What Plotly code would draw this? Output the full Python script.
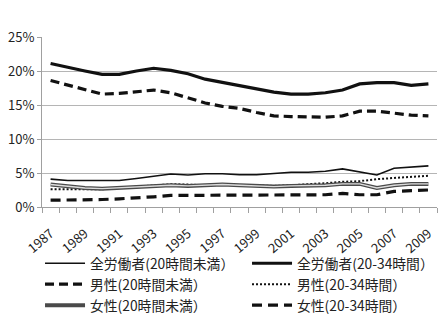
import plotly.graph_objects as go

years = list(range(1987, 2010))

all_u20 = [4.1, 3.9, 3.9, 3.9, 3.9, 4.2, 4.55, 4.85, 4.7, 4.9, 4.9, 4.75, 4.75, 4.9, 5.1, 5.1, 5.25, 5.6, 5.2, 4.7, 5.7, 5.9, 6.05]
all_2034 = [21.1, 20.5, 20.0, 19.5, 19.5, 20.0, 20.4, 20.1, 19.6, 18.8, 18.3, 17.9, 17.4, 16.9, 16.6, 16.6, 16.8, 17.2, 18.1, 18.3, 18.3, 17.9, 18.1]
men_u20 = [18.6, 17.9, 17.2, 16.6, 16.7, 16.9, 17.2, 16.8, 16.0, 15.3, 14.8, 14.5, 13.9, 13.4, 13.3, 13.2, 13.2, 13.4, 14.1, 14.1, 13.8, 13.5, 13.4]
men_2034 = [2.6, 2.6, 2.7, 2.6, 2.8, 3.0, 3.1, 3.35, 3.3, 3.2, 3.3, 3.2, 3.1, 3.1, 3.2, 3.3, 3.5, 3.7, 3.8, 4.1, 4.3, 4.4, 4.6]
wom_u20 = [3.3, 3.0, 2.8, 2.7, 2.8, 2.9, 3.0, 3.2, 3.1, 3.2, 3.3, 3.2, 3.1, 3.0, 3.1, 3.1, 3.2, 3.4, 3.4, 2.8, 3.2, 3.4, 3.4]
wom_2034 = [1.0, 1.0, 1.0, 1.1, 1.2, 1.3, 1.5, 1.7, 1.7, 1.7, 1.7, 1.7, 1.7, 1.8, 1.8, 1.8, 1.8, 2.0, 1.8, 1.8, 2.3, 2.4, 2.5]

names = ["全労働者(20時間未満）", "全労働者(20-34時間）", "男性(20時間未満）",
         "男性(20-34時間）", "女性(20時間未満）", "女性(20-34時間）"]
y_ticks = [0, 5, 10, 15, 20, 25]
x_labels = list(range(1987, 2010, 2))

ink = "#111111"
fig = go.Figure()

fig.add_trace(go.Scatter(x=years, y=all_u20, mode="lines", name=names[0],
                         line=dict(color=ink, width=1.6)))
fig.add_trace(go.Scatter(x=years, y=all_2034, mode="lines", name=names[1],
                         line=dict(color=ink, width=3.2)))
fig.add_trace(go.Scatter(x=years, y=men_u20, mode="lines", name=names[2],
                         line=dict(color=ink, width=3.2, dash="9px,5px")))
fig.add_trace(go.Scatter(x=years, y=men_2034, mode="lines", name=names[3],
                         line=dict(color=ink, width=2, dash="2px,2px")))
fig.add_trace(go.Scatter(x=years, y=wom_u20, mode="lines", name=names[4],
                         legendgroup="w20",
                         line=dict(color="#4a4a4a", width=4)))
fig.add_trace(go.Scatter(x=years, y=wom_u20, mode="lines", name=names[4],
                         legendgroup="w20", showlegend=False,
                         line=dict(color="#dcdcdc", width=1.4)))
fig.add_trace(go.Scatter(x=years, y=wom_2034, mode="lines", name=names[5],
                         line=dict(color=ink, width=3.2, dash="10px,6px")))

font_family = "Noto Sans CJK JP, Noto Sans, sans-serif"

fig.update_layout(
    width=442, height=318,
    margin=dict(l=42, r=5, t=37, b=111, autoexpand=False),
    paper_bgcolor="white", plot_bgcolor="white",
    font=dict(family=font_family, size=13, color="#222222"),
    showlegend=True,
    legend=dict(orientation="h", x=-0.005, xanchor="left", y=-0.24, yanchor="top",
                itemwidth=40,
                entrywidth=152, entrywidthmode="pixels",
                font=dict(size=13.8), tracegroupgap=0,
                bgcolor="rgba(0,0,0,0)"),
)

fig.update_xaxes(
    range=[1986.5, 2009.5],
    tickmode="array", tickvals=x_labels, ticktext=[str(v) for v in x_labels],
    tickangle=-40, ticks="", ticklabelstandoff=13,
    showgrid=False, zeroline=False,
    showline=True, linecolor="#a0a0a0", linewidth=1,
    tickfont=dict(size=13, color="#222222"),
    minor=dict(tickvals=[y - 0.5 for y in years] + [2009.5], ticks="outside",
               ticklen=5, tickcolor="#a0a0a0", showgrid=False),
)

fig.update_yaxes(
    range=[0, 25],
    tickmode="array", tickvals=y_ticks, ticktext=[f"{v}%" for v in y_ticks],
    showgrid=True, gridcolor="#b5b5b5", gridwidth=1,
    zeroline=False, showline=True, linecolor="#a0a0a0", linewidth=1,
    ticks="outside", ticklen=4, tickcolor="#a0a0a0",
    tickfont=dict(size=13, color="#222222"),
)

fig.write_html("out.html")
